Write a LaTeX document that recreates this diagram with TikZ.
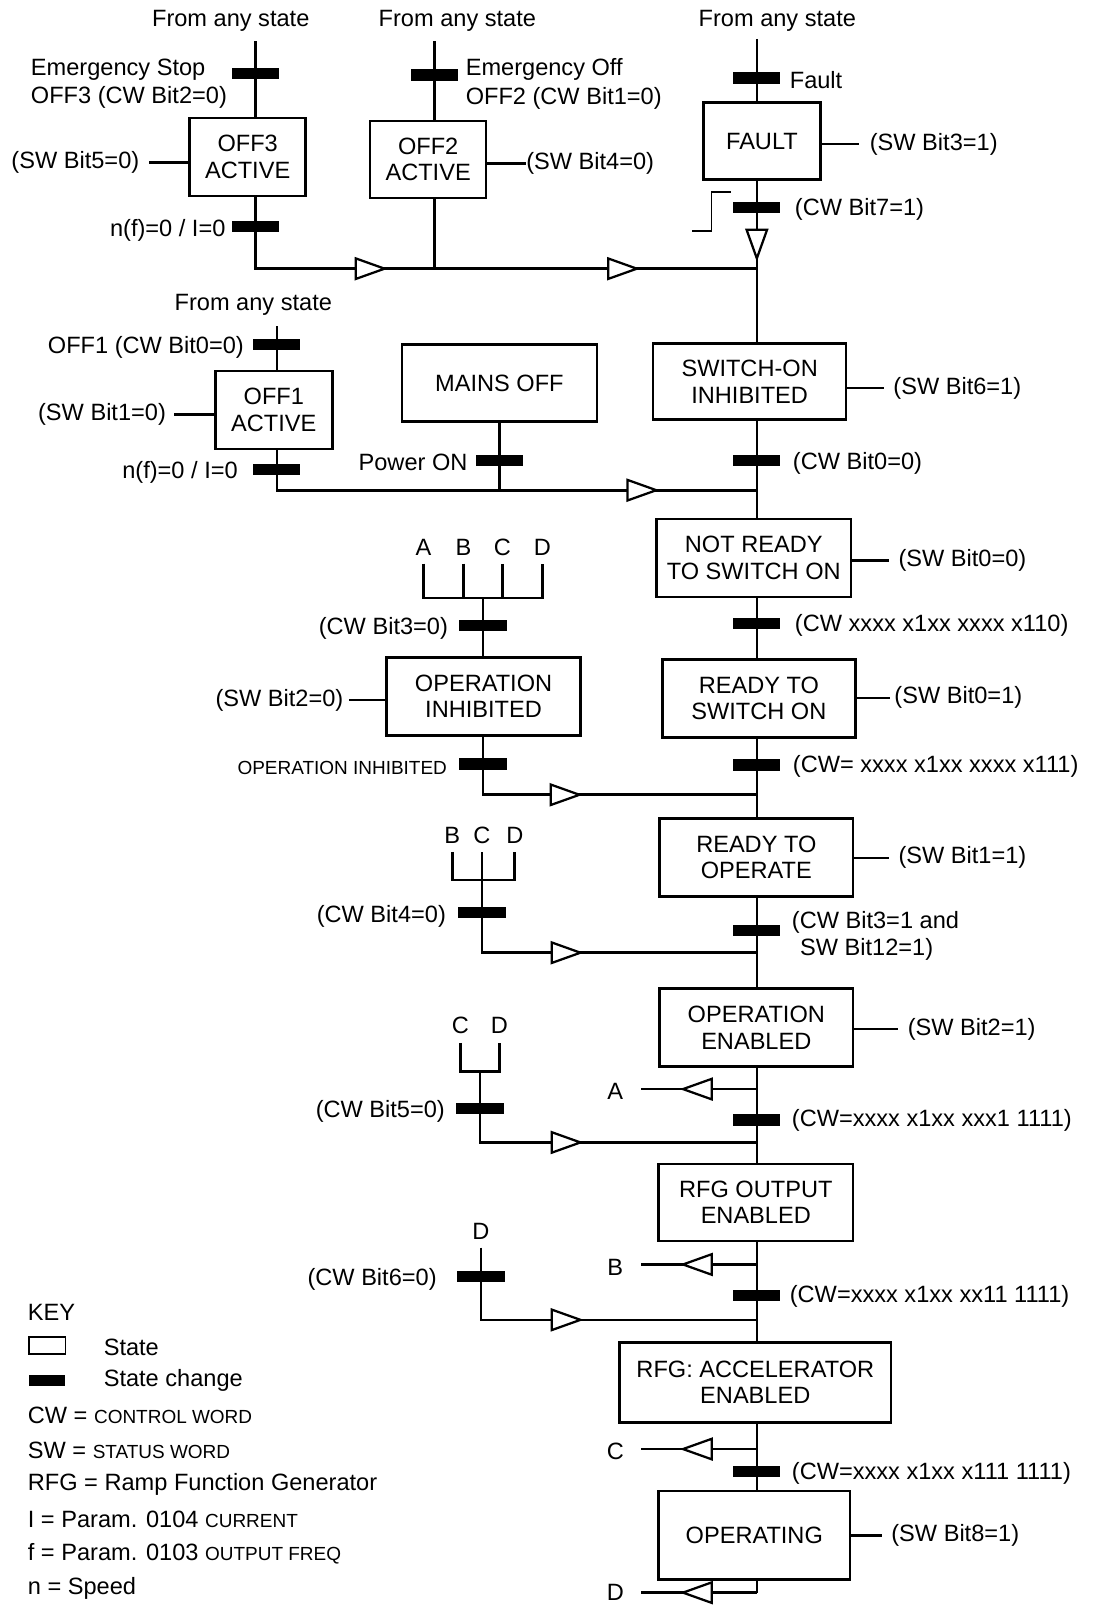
\documentclass[tikz,border=0pt]{standalone}
\usepackage{fontspec}
\setmainfont{Liberation Sans}
\usetikzlibrary{calc, positioning}

\newcommand{\smallcap}[1]{{\fontsize{18.5}{21}\selectfont #1}}
\tikzset{opentri/.pic={\draw[line width=2.2pt, fill=white] (-14,-10) -- (14,0) -- (-14,10) -- cycle;}}

\begin{document}
\begin{tikzpicture}[x=1pt, y=-1pt, font=\fontsize{23}{26}\selectfont,
  statebox/.style={draw, line width=2.4pt, align=center, inner sep=0pt},
  changebar/.style={fill=black, inner sep=0pt, minimum width=46, minimum height=11},
  lbl/.style={inner sep=0pt, yshift=-2.5pt},
  link/.style={line width=2.6pt}]
\useasboundingbox (0,0) rectangle (1069,1568);

% OFF3 / OFF2 / FAULT
\node[lbl] (any3) at (225,18) {From any state};
\node[lbl] (any2) at (446,18) {From any state};
\node[lbl] (anyF) at (758,18) {From any state};

\node[statebox, minimum width=113, minimum height=76] (off3) at (241.5,153) {OFF3\\ACTIVE};
\node[changebar] (estop) at (249,72) {};
\node[changebar] (zero3) at (249,221) {};
\node[lbl, anchor=west, align=left] (estoptxt) at (30,79) {Emergency Stop\\[2pt]OFF3 (CW Bit2=0)};
\node[lbl, anchor=east] (zero3txt) at (220,222) {n(f)=0 / I=0};
\node[lbl, anchor=east] (sw5) at (136,156) {(SW Bit5=0)};
\coordinate (in3) at (249,40);
\coordinate (out3) at (249,262);
\coordinate (jfault) at (738,262);

\node[statebox, minimum width=113, minimum height=75] (off2) at (417.5,155.5) {OFF2\\ACTIVE};
\node[changebar] (eoff) at (424,73) {};
\node[lbl, anchor=west, align=left] (eofftxt) at (454,79) {Emergency Off\\[2pt]OFF2 (CW Bit1=0)};
\node[lbl, anchor=west] (sw4) at (513,157) {(SW Bit4=0)};
\coordinate (in2) at (424,40);

\node[statebox, minimum width=114, minimum height=75] (fault) at (743,137.5) {FAULT};
\node[changebar] (flt) at (738,76) {};
\node[changebar] (reset) at (738,202) {};
\node[lbl, anchor=west] (flttxt) at (770,76) {Fault};
\node[lbl, anchor=west] (resettxt) at (775,202) {(CW Bit7=1)};
\node[lbl, anchor=west] (sw3) at (848,138) {(SW Bit3=1)};
\coordinate (inF) at (738,38);

\draw[link] (in3) -- (in3 |- off3.north);
\draw[link] (in3 |- off3.south) -- (out3) -- (jfault);
\draw[link] (off3.west |- sw5) -- ($(sw5.east)+(9,0)$);
\draw[link] (in2) -- (in2 |- off2.north);
\draw[link] (in2 |- off2.south) -- (in2 |- out3);
\draw[link] (off2.east |- sw4) -- (sw4.west);
\draw[link] (inF) -- (inF |- fault.north);
\draw[link] (fault.east |- sw3) -- ($(sw3.west)+(-10,0)$);
\draw[line width=1.5pt] (675,225) -- (694,225) -- (694,187) -- (713,187);

% OFF1 / MAINS OFF
\node[lbl] (any1) at (247,295) {From any state};
\node[statebox, minimum width=114, minimum height=76] (off1) at (267,400) {OFF1\\ACTIVE};
\node[changebar] (off1bar) at (270,336) {};
\node[changebar] (zero1) at (270,458) {};
\node[lbl, anchor=east] (off1txt) at (238,336) {OFF1 (CW Bit0=0)};
\node[lbl, anchor=east] (zero1txt) at (232,458) {n(f)=0 / I=0};
\node[lbl, anchor=east] (sw1) at (162,402) {(SW Bit1=0)};
\coordinate (in1) at (270,318);
\coordinate (out1) at (270,478);
\coordinate (jsoi) at (738,478);

\node[statebox, minimum width=190, minimum height=75] (mains) at (487,373.5) {MAINS OFF};
\node[changebar] (pwr) at (487,449) {};
\node[lbl, anchor=east] (pwrtxt) at (456,448) {Power ON};

\draw[link] (in1) -- (in1 |- off1.north);
\draw[link] (in1 |- off1.south) -- (out1) -- (jsoi);
\draw[link] (mains.south) -- (mains.south |- out1);
\draw[link] (off1.west |- sw1) -- ($(sw1.east)+(8,0)$);

% main column
\coordinate (col) at (738,0);
\node[statebox, minimum width=188, minimum height=74] (soi) at (731,372) {SWITCH-ON\\INHIBITED};
\node[statebox, minimum width=190, minimum height=76] (nrs) at (735,544) {NOT READY\\TO SWITCH ON};
\node[statebox, minimum width=188, minimum height=76] (rts) at (740,681) {READY TO\\SWITCH ON};
\node[statebox, minimum width=189, minimum height=76] (rto) at (737.5,836) {READY TO\\OPERATE};
\node[statebox, minimum width=189, minimum height=76] (ope) at (737.5,1002) {OPERATION\\ENABLED};
\node[statebox, minimum width=190, minimum height=75] (rfgo) at (737,1172.5) {RFG OUTPUT\\ENABLED};
\node[statebox, minimum width=265, minimum height=78] (rfga) at (736.5,1348) {RFG: ACCELERATOR\\ENABLED};
\node[statebox, minimum width=187, minimum height=86] (oper) at (735.5,1497) {OPERATING};

\node[lbl, anchor=west] (sw6) at (871,376) {(SW Bit6=1)};
\node[lbl, anchor=west] (sw00) at (876,544) {(SW Bit0=0)};
\node[lbl, anchor=west] (sw01) at (872,678) {(SW Bit0=1)};
\node[lbl, anchor=west] (sw11) at (876,834) {(SW Bit1=1)};
\node[lbl, anchor=west] (sw21) at (885,1001) {(SW Bit2=1)};
\node[lbl, anchor=west] (sw81) at (869,1495) {(SW Bit8=1)};

\node[changebar] (cw0) at (738,449) {};
\node[changebar] (cw110) at (738,608) {};
\node[changebar] (cw111) at (738,746) {};
\node[changebar] (cw3) at (738,907) {};
\node[changebar] (cw1f) at (738,1092) {};
\node[changebar] (cw3f) at (738,1263) {};
\node[changebar] (cw7f) at (738,1435) {};
\node[lbl, anchor=west] (cw0txt) at (773,449) {(CW Bit0=0)};
\node[lbl, anchor=west] (cw110txt) at (775,607) {(CW xxxx x1xx xxxx x110)};
\node[lbl, anchor=west] (cw111txt) at (773,745) {(CW= xxxx x1xx xxxx x111)};
\node[lbl, anchor=west, align=left] (cw3txt) at (772,910) {(CW Bit3=1 and\\\hspace*{8pt}SW Bit12=1)};
\node[lbl, anchor=west] (cw1ftxt) at (772,1090) {(CW=xxxx x1xx xxx1 1111)};
\node[lbl, anchor=west] (cw3ftxt) at (770,1262) {(CW=xxxx x1xx xx11 1111)};
\node[lbl, anchor=west] (cw7ftxt) at (772,1434) {(CW=xxxx x1xx x111 1111)};

\coordinate (jrto) at (738,775);
\coordinate (jope) at (738,929);
\coordinate (jrfgo) at (738,1114);
\coordinate (jrfga) at (738,1287);
\coordinate (retA) at (738,1062);
\coordinate (retB) at (738,1233);
\coordinate (retC) at (738,1413);
\coordinate (retD) at (738,1553);
\foreach \n/\y in {A/1062, B/1233, C/1413}
  \node[lbl] (to\n) at (600,\y) {\n};
\node[inner sep=0pt] (toD) at (600,1553) {D};

\foreach \a/\b in {fault/soi, soi/nrs, nrs/rts, rts/rto, rto/ope, ope/rfgo, rfgo/rfga, rfga/oper}
  \draw[link] (col |- \a.south) -- (col |- \b.north);
\draw[link] (col |- oper.south) -- (retD);
\foreach \n in {A,B,C,D}
  \draw[link] (ret\n) -- ($(to\n.east |- ret\n)+(17,0)$);

\foreach \s/\l in {soi/sw6, nrs/sw00, rto/sw11, ope/sw21, oper/sw81}
  \draw[link] (\s.east |- \l) -- ($(\l.west)+(-9,0)$);
\draw[link] (rts.east |- sw01) -- ($(sw01.west)+(-4,0)$);

% OPERATION INHIBITED branch
\node[statebox, minimum width=189, minimum height=76] (opi) at (471.5,679) {OPERATION\\INHIBITED};
\node[lbl, anchor=east] (sw20) at (335,680) {(SW Bit2=0)};
\foreach \n/\x in {A/413, B/452, C/490, D/529}
  \node[lbl] (a\n) at (\x,531) {\n};
\node[changebar] (cw3z) at (471,610) {};
\node[changebar] (opibar) at (471,745) {};
\node[lbl, anchor=east] (cw3ztxt) at (437,610) {(CW Bit3=0)};
\node[lbl, anchor=east] (opibartxt) at (436,746) {\smallcap{OPERATION INHIBITED}};
\coordinate (forkA) at (471,583);
\coordinate (outA) at (471,775);
\draw[link] ([yshift=-8pt]aA.south) |- (forkA) -| ([yshift=-8pt]aD.south);
\draw[link] ([yshift=-8pt]aB.south) -- (aB |- forkA);
\draw[link] ([yshift=-8pt]aC.south) -- (aC |- forkA);
\draw[link] (forkA) -- (forkA |- opi.north);
\draw[link] (forkA |- opi.south) -- (outA) -- (jrto);
\draw[link] (opi.west |- sw20) -- ($(sw20.east)+(5,0)$);

% READY TO OPERATE branch
\foreach \n/\x in {B/441, C/470, D/502}
  \node[lbl] (b\n) at (\x,812) {\n};
\node[changebar] (cw4z) at (470,890) {};
\node[lbl, anchor=east] (cw4ztxt) at (435,891) {(CW Bit4=0)};
\coordinate (forkB) at (470,858);
\coordinate (outB) at (470,929);
\draw[link] ([yshift=-8pt]bB.south) |- (forkB) -| ([yshift=-8pt]bD.south);
\draw[link] ([yshift=-8pt]bC.south) -- (outB) -- (jope);

% OPERATION ENABLED branch
\foreach \n/\x in {C/449, D/487}
  \node[lbl] (c\n) at (\x,997) {\n};
\node[changebar] (cw5z) at (468,1081) {};
\node[lbl, anchor=east] (cw5ztxt) at (434,1081) {(CW Bit5=0)};
\coordinate (forkC) at (468,1045);
\coordinate (outC) at (468,1114);
\draw[link] ([yshift=-9pt]cC.south) |- (forkC) -| ([yshift=-9pt]cD.south);
\draw[link] (forkC) -- (outC) -- (jrfgo);

% RFG OUTPUT ENABLED branch
\node[lbl] (dD) at (469,1198) {D};
\node[changebar] (cw6z) at (469,1245) {};
\node[lbl, anchor=east] (cw6ztxt) at (426,1245) {(CW Bit6=0)};
\coordinate (outD) at (469,1287);
\draw[link] ([yshift=-8pt]dD.south) -- (outD) -- (jrfga);

% open arrows
\foreach \x/\y in {361/262, 607/262, 626/478, 551/775, 552/929, 552/1114, 552/1287}
  \pic at (\x,\y) {opentri};
\foreach \y in {1062, 1233, 1413, 1553}
  \pic[rotate=180] at (680,\y) {opentri};
\pic[rotate=-90] at (738,238) {opentri};

% key
\node[lbl, anchor=west] (key) at (27,1277) {KEY};
\node[draw, line width=1.6pt, minimum width=36, minimum height=17, inner sep=0pt] (keystate) at (46,1312) {};
\node[changebar, minimum width=35] (keychange) at (46,1346) {};
\node[lbl, anchor=west] (keystatetxt) at (101,1311) {State};
\node[lbl, anchor=west] (keychangetxt) at (101,1344) {State change};
\node[lbl, anchor=west] (keycw) at (27,1378) {CW = \smallcap{CONTROL WORD}};
\node[lbl, anchor=west] (keysw) at (27,1412) {SW = \smallcap{STATUS WORD}};
\node[lbl, anchor=west] (keyrfg) at (27,1445) {RFG = Ramp Function Generator};
\node[lbl, anchor=west] (keyi) at (27,1479) {I = Param. 0104 \smallcap{CURRENT}};
\node[lbl, anchor=west] (keyf) at (27,1513) {f = Param. 0103 \smallcap{OUTPUT FREQ}};
\node[lbl, anchor=west] (keyn) at (27,1546) {n = Speed};
\end{tikzpicture}
\end{document}
